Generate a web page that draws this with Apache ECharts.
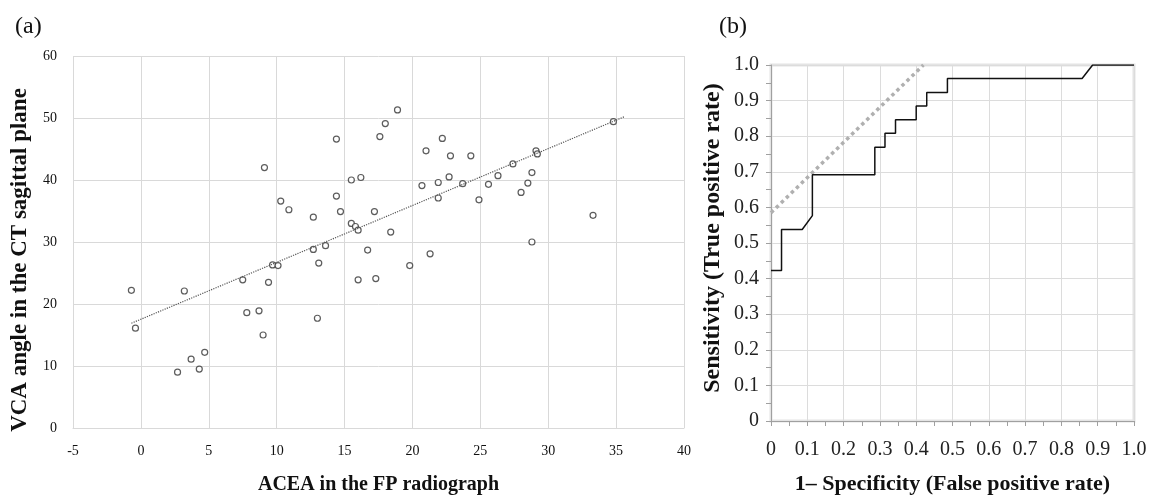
<!DOCTYPE html>
<html>
<head>
<meta charset="utf-8">
<script src="https://cdn.jsdelivr.net/npm/echarts@6/dist/echarts.min.js"></script>
<style>
html, body { margin: 0; padding: 0; background: #fff; }
#main { width: 1151px; height: 500px; }
</style>
</head>
<body>
<div id="main"></div>
<script>
// (a) ACEA vs VCA scatter
var aceaX = [14.4, 18.9, 18.0, 17.6, 15.5, 16.2, 14.4, 14.7, 12.7, 17.2, 15.5, 15.8, 16.0, 18.4,
    21.0, 22.2, 22.8, 24.3, 20.7, 21.9, 22.7, 23.7, 21.9, 24.9, 25.6, 26.3, 27.4, 29.1, 29.2,
    28.8, 28.5, 28.0, 33.3, 34.8, 9.1, 10.3, 10.9, -0.7, -0.4, 3.2, 2.7, 3.7, 4.3, 4.7, 7.5,
    9.7, 10.1, 9.4, 7.8, 8.7, 9.0, 12.7, 13.6, 13.1, 16.7, 16.0, 17.3, 19.8, 21.3, 28.8, 13.0];
var vcaY = [46.6, 51.3, 49.1, 47.0, 40.0, 40.4, 37.4, 34.9, 34.0, 34.9, 33.0, 32.5, 31.9, 31.6,
    44.7, 46.7, 43.9, 43.9, 39.1, 39.6, 40.5, 39.4, 37.1, 36.8, 39.3, 40.7, 42.6, 44.7, 44.2,
    41.2, 39.5, 38.0, 34.3, 49.4, 42.0, 36.6, 35.2, 22.2, 16.1, 22.1, 9.0, 11.1, 9.5, 12.2, 23.9,
    26.3, 26.2, 23.5, 18.6, 18.9, 15.0, 28.8, 29.4, 26.6, 28.7, 23.9, 24.1, 26.2, 28.1, 30.0, 17.7];
var trendX = [-0.7, 35.6];
var trendY = [16.9, 50.2];
var scatterXTicks = [-5, 0, 5, 10, 15, 20, 25, 30, 35, 40];
var scatterYTicks = [0, 10, 20, 30, 40, 50, 60];

// (b) ROC curve
var rocX = [0, 0.029, 0.029, 0.086, 0.114, 0.114, 0.286, 0.286, 0.314, 0.314, 0.343, 0.343,
    0.4, 0.4, 0.429, 0.429, 0.486, 0.486, 0.857, 0.886, 1.0];
var rocY = [0.423, 0.423, 0.538, 0.538, 0.577, 0.692, 0.692, 0.769, 0.769, 0.808, 0.808, 0.846,
    0.846, 0.885, 0.885, 0.923, 0.923, 0.962, 0.962, 1.0, 1.0];
var tangentX = [0, 0.42];
var tangentY = [0.585, 1.0];

function pairs(xs, ys) {
    var out = [];
    for (var i = 0; i < xs.length; i++) out.push([xs[i], ys[i]]);
    return out;
}
function rocLabel(v) {
    if (v === 0) return '0';
    return v.toFixed(1);
}

var serif = '"Liberation Serif", "DejaVu Serif", serif';
var myChart = echarts.init(document.getElementById('main'));
var option = {
    animation: false,
    textStyle: { fontFamily: serif },
    title: [
        { text: '(a)', left: 10, top: 10, textStyle: { fontFamily: serif, fontSize: 24, fontWeight: 'normal', color: '#111' } },
        { text: '(b)', left: 714, top: 10, textStyle: { fontFamily: serif, fontSize: 24, fontWeight: 'normal', color: '#111' } }
    ],
    grid: [
        { left: 73, top: 56, width: 611, height: 379 },
        { left: 771, top: 65, width: 363, height: 363, show: true, borderColor: '#e4e4e4', borderWidth: 3 }
    ],
    xAxis: [
        {
            gridIndex: 0, type: 'value',
            min: scatterXTicks[0], max: scatterXTicks[scatterXTicks.length - 1], interval: 5,
            name: 'ACEA in the FP radiograph', nameLocation: 'middle', nameGap: 47,
            nameTextStyle: { fontFamily: serif, fontSize: 20, fontWeight: 'bold', color: '#111' },
            axisLine: { lineStyle: { color: '#d9d9d9' } },
            axisTick: { show: false },
            axisLabel: { fontFamily: serif, fontSize: 14, color: '#111', margin: 16 },
            splitLine: { lineStyle: { color: '#d9d9d9' } }
        },
        {
            gridIndex: 1, type: 'value', min: 0, max: 1, interval: 0.1,
            name: '1\u2013 Specificity (False positive rate)', nameLocation: 'middle', nameGap: 52,
            nameTextStyle: { fontFamily: serif, fontSize: 22, fontWeight: 'bold', color: '#111' },
            axisLine: { lineStyle: { color: '#a0a0a0' } },
            axisTick: { show: true, length: 5, lineStyle: { color: '#a0a0a0' } },
            minorTick: { show: true, splitNumber: 2, length: 5, lineStyle: { color: '#a0a0a0' } },
            axisLabel: { fontFamily: serif, fontSize: 20, color: '#222', margin: 19, formatter: rocLabel },
            splitLine: { lineStyle: { color: '#dcdcdc' } }
        }
    ],
    yAxis: [
        {
            gridIndex: 0, type: 'value',
            min: scatterYTicks[0], max: scatterYTicks[scatterYTicks.length - 1], interval: 10,
            name: 'VCA angle in the CT sagittal plane', nameLocation: 'middle', nameGap: 41,
            nameTextStyle: { fontFamily: serif, fontSize: 23, fontWeight: 'bold', color: '#111', padding: [0, 36, 0, 0] },
            axisLine: { show: false },
            axisTick: { show: false },
            axisLabel: { fontFamily: serif, fontSize: 14, color: '#111', margin: 16 },
            splitLine: { lineStyle: { color: '#d9d9d9' } }
        },
        {
            gridIndex: 1, type: 'value', min: 0, max: 1, interval: 0.1,
            name: 'Sensitivity (True positive rate)', nameLocation: 'middle', nameGap: 46,
            nameTextStyle: { fontFamily: serif, fontSize: 24, fontWeight: 'bold', color: '#111', padding: [0, 0, 0, 10] },
            axisLine: { show: true, lineStyle: { color: '#a0a0a0' } },
            axisTick: { show: true, length: 5, lineStyle: { color: '#a0a0a0' } },
            minorTick: { show: true, splitNumber: 2, length: 5, lineStyle: { color: '#a0a0a0' } },
            axisLabel: { fontFamily: serif, fontSize: 20, color: '#222', margin: 12, formatter: rocLabel },
            splitLine: { lineStyle: { color: '#dcdcdc' } }
        }
    ],
    series: [
        {
            type: 'line', xAxisIndex: 0, yAxisIndex: 0,
            data: pairs(trendX, trendY), symbol: 'none',
            lineStyle: { type: 'dotted', color: '#555', width: 1.2 }
        },
        {
            type: 'scatter', xAxisIndex: 0, yAxisIndex: 0,
            data: pairs(aceaX, vcaY), symbol: 'circle', symbolSize: 6,
            itemStyle: { color: '#fff', borderColor: '#333', borderWidth: 1.2 }
        },
        {
            type: 'line', xAxisIndex: 1, yAxisIndex: 1,
            data: pairs(tangentX, tangentY), symbol: 'none',
            lineStyle: { type: 'dotted', color: '#b0b0b0', width: 3.5 }
        },
        {
            type: 'line', xAxisIndex: 1, yAxisIndex: 1,
            data: pairs(rocX, rocY), symbol: 'none',
            lineStyle: { color: '#111', width: 1.5 }
        }
    ]
};
myChart.setOption(option);
</script>
</body>
</html>
